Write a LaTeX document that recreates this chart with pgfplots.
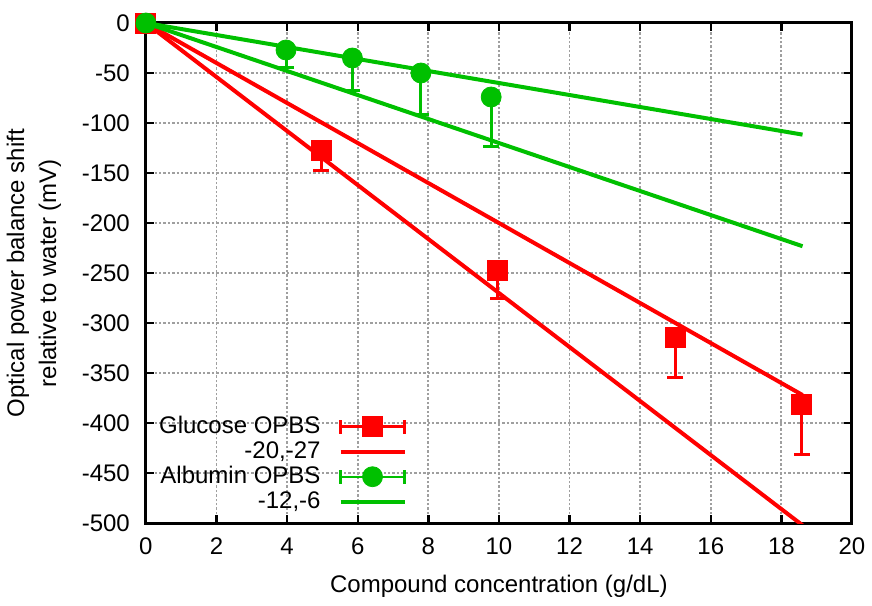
\documentclass[border=0pt]{standalone}
\usepackage{pgfplots}
\pgfplotsset{compat=1.18}
\usepackage{fontspec}
\setmainfont{Liberation Sans}
\definecolor{gred}{RGB}{255,0,0}
\definecolor{ggreen}{RGB}{0,192,0}
\begin{document}
\begin{tikzpicture}
\begin{axis}[
  name=ax,
  scale only axis, width=353pt, height=250pt,
  xmin=0, xmax=20, ymin=-500, ymax=0,
  xtick={0,2,...,20}, ytick={-500,-450,...,0},
  tick align=inside, tick pos=both,
  major tick length=4pt,
  axis line style={line width=1.5pt},
  every tick/.style={line width=1.2pt, black},
  grid=major, major grid style={gray!75, dash pattern=on 1.2pt off 1pt, line width=0.9pt},
  font=\fontsize{12}{13}\selectfont,
  /pgf/number format/assume math mode=true,
  yticklabel style={xshift=-4.5pt},
  xticklabel style={yshift=-4pt},
  xlabel={Compound concentration (g/dL)},
  xlabel style={yshift=-3pt},
  ylabel={Optical power balance shift\\[3pt]relative to water (mV)},
  ylabel style={align=center, font=\fontsize{12}{13}\selectfont, yshift=3.5pt},
  clip mode=individual,
  legend style={at={(0.004,0.006)}, anchor=south west, draw=none, fill=none,
    row sep=-1.5pt, font=\fontsize{12}{13}\selectfont},
  legend cell align=right, legend plot pos=right,
]
\addplot[gred, only marks, mark=square*, mark size=5pt,
  legend image code/.code={
    \path[draw=none, fill=none] (0pt,0pt) -- (8pt,0pt);
    \draw[gred, line width=1.2pt] (8pt,0pt) -- (40pt,0pt);
    \draw[gred, line width=1.2pt] (8pt,-3.5pt) -- (8pt,3.5pt);
    \draw[gred, line width=1.2pt] (40pt,-3.5pt) -- (40pt,3.5pt);
    \fill[gred] (19pt,-5pt) rectangle (29pt,5pt);
  },
  error bars/.cd, y dir=minus, y explicit,
  error bar style={line width=1.5pt, gred},
  error mark options={rotate=90, mark size=4pt, line width=1.5pt, gred}]
  coordinates {(0,0) -= (0,0) (4.97,-127) -= (0,20) (9.97,-247) -= (0,28) (14.99,-314) -= (0,40) (18.58,-381) -= (0,50)};
\addlegendentry{Glucose OPBS}
\addplot[gred, line width=2pt,
  legend image code/.code={\path[draw=none, fill=none] (0pt,0pt) -- (8pt,0pt); \draw[gred, line width=2pt] (8pt,0pt) -- (40pt,0pt);}]
  coordinates {(0,0) (18.6,-372)};
\addlegendentry{-20,-27}
\addplot[gred, line width=2pt, forget plot] coordinates {(0,0) (18.6,-502.2)};
\addplot[ggreen, only marks, mark=*, mark size=5pt,
  legend image code/.code={
    \path[draw=none, fill=none] (0pt,0pt) -- (8pt,0pt);
    \draw[ggreen, line width=1.2pt] (8pt,0pt) -- (40pt,0pt);
    \draw[ggreen, line width=1.2pt] (8pt,-3.5pt) -- (8pt,3.5pt);
    \draw[ggreen, line width=1.2pt] (40pt,-3.5pt) -- (40pt,3.5pt);
    \fill[ggreen] (24pt,0pt) circle (5pt);
  },
  error bars/.cd, y dir=minus, y explicit,
  error bar style={line width=1.5pt, ggreen},
  error mark options={rotate=90, mark size=4pt, line width=1.5pt, ggreen}]
  coordinates {(0,0) -= (0,0) (3.97,-27) -= (0,17) (5.85,-35) -= (0,32) (7.79,-50) -= (0,41) (9.78,-74) -= (0,49)};
\addlegendentry{Albumin OPBS}
\addplot[ggreen, line width=2pt,
  legend image code/.code={\path[draw=none, fill=none] (0pt,0pt) -- (8pt,0pt); \draw[ggreen, line width=2pt] (8pt,0pt) -- (40pt,0pt);}]
  coordinates {(0,0) (18.6,-223.2)};
\addlegendentry{-12,-6}
\addplot[ggreen, line width=2pt, forget plot] coordinates {(0,0) (18.6,-111.6)};
\end{axis}
\path ([yshift=11.5pt]ax.north west) -- ([yshift=-41pt]ax.south west);
\end{tikzpicture}
\end{document}
